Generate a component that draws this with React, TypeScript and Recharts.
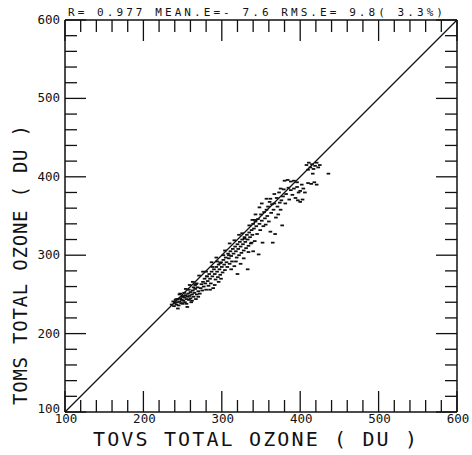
// TOVS vs TOMS total ozone — scatter with 1:1 line, plotter-style frame
import { ScatterChart, Scatter, XAxis, YAxis, ReferenceLine } from 'recharts';

// TOVS total ozone (DU), x values
const tovs = [
  236, 238, 239, 240, 241, 242, 243, 244, 245, 246,
  247, 248, 249, 250, 250, 251, 252, 253, 254, 255,
  255, 256, 257, 258, 259, 260, 260, 261, 262, 263,
  264, 265, 266, 267, 268, 269, 270, 270, 258, 264,
  246, 252, 262, 266, 244, 256, 268, 272, 273, 274,
  275, 276, 277, 278, 279, 280, 281, 282, 283, 284,
  285, 286, 287, 288, 289, 290, 291, 292, 293, 294,
  295, 296, 297, 298, 299, 300, 301, 302, 303, 304,
  285, 291, 296, 280, 288, 294, 299, 302, 305, 306,
  307, 308, 309, 310, 311, 312, 313, 314, 315, 316,
  317, 318, 319, 320, 321, 322, 323, 324, 325, 326,
  327, 328, 329, 330, 331, 332, 333, 334, 335, 336,
  320, 324, 333, 334, 312, 318, 328, 338, 310, 326,
  337, 338, 339, 340, 340, 341, 342, 343, 344, 345,
  346, 347, 348, 349, 350, 351, 352, 353, 354, 355,
  356, 357, 358, 359, 360, 361, 362, 363, 364, 365,
  366, 367, 368, 369, 370, 371, 372, 373, 374, 375,
  376, 377, 378, 379, 380, 381, 382, 384, 385, 386,
  388, 388, 390, 392, 392, 394, 396, 396, 397, 398,
  400, 400, 402, 403, 404, 406, 408, 410, 410, 411,
  413, 414, 415, 416, 417, 418, 419, 421, 421, 423,
  425, 436, 357, 351, 348, 343, 339, 362, 367, 375,
  242, 247, 251, 254, 259, 263, 267, 271, 276, 281,
  287, 293, 298, 304, 309, 316, 322, 329, 335, 342,
];

// TOMS total ozone (DU), y values
const toms = [
  237, 241, 235, 239, 243, 237, 240, 244, 236, 241,
  245, 239, 243, 247, 238, 242, 246, 240, 249, 244,
  238, 247, 251, 243, 248, 253, 245, 240, 250, 255,
  247, 252, 257, 244, 250, 259, 254, 247, 256, 259,
  250, 252, 242, 262, 232, 234, 264, 251, 258, 263,
  255, 266, 260, 270, 264, 256, 273, 267, 261, 276,
  270, 264, 279, 273, 258, 282, 276, 269, 285, 279,
  272, 288, 282, 275, 291, 285, 278, 294, 288, 281,
  256, 262, 266, 279, 285, 292, 270, 300, 297, 291,
  285, 302, 296, 289, 305, 299, 292, 308, 302, 286,
  311, 305, 297, 314, 308, 300, 317, 311, 303, 320,
  314, 306, 323, 317, 309, 326, 320, 312, 329, 323,
  276, 289, 282, 304, 282, 292, 296, 316, 315, 328,
  315, 332, 326, 305, 340, 334, 318, 343, 337, 327,
  346, 301, 340, 332, 352, 344, 316, 337, 355, 347,
  339, 358, 350, 362, 343, 368, 330, 354, 365, 316,
  358, 378, 327, 348, 373, 362, 352, 380, 367, 358,
  370, 338, 375, 384, 395, 366, 378, 396, 386, 371,
  394, 383, 377, 395, 385, 373, 393, 387, 370, 380,
  368, 382, 390, 371, 385, 380, 415, 392, 409, 418,
  412, 391, 416, 404, 410, 393, 414, 418, 390, 412,
  415, 404, 372, 366, 361, 352, 345, 372, 366, 385,
  244, 251, 248, 257, 262, 266, 263, 274, 279, 273,
  291, 297, 290, 306, 300, 319, 326, 321, 338, 345,
];

const axisTicks = [
  100, 120, 140, 160, 180, 200, 220, 240, 260, 280, 300, 320, 340,
  360, 380, 400, 420, 440, 460, 480, 500, 520, 540, 560, 580, 600,
];
const labelTicks = [100, 200, 300, 400, 500, 600];

const statsText = 'R= 0.977 MEAN.E=- 7.6 RMS.E= 9.8( 3.3%)';
const xTitle = 'TOVS TOTAL OZONE ( DU )';
const yTitle = 'TOMS TOTAL OZONE ( DU )';

const points = tovs.map((x, i) => ({ tovs: x, toms: toms[i] }));

const FONT = '"DejaVu Sans Mono", "Liberation Mono", monospace';
const INK = '#111';

type Side = 'bottom' | 'top' | 'left' | 'right';

// inward ticks, longer every 100 DU; labels only on bottom/left
function frameTick(side: Side) {
  return (props: any) => {
    const { x, y, payload } = props;
    const v = payload.value;
    const major = labelTicks.includes(v);
    const len = major ? 21 : 12;
    let x2 = x, y2 = y;
    if (side === 'bottom') y2 = y - len;
    if (side === 'top') y2 = y + len;
    if (side === 'left') x2 = x + len;
    if (side === 'right') x2 = x - len;
    return (
      <g key={`${side}-${v}`}>
        <line x1={x} y1={y} x2={x2} y2={y2} stroke={INK} strokeWidth={1.3} />
        {major && side === 'bottom' && (
          <text x={x + 1} y={y + 11} textAnchor="middle" fontFamily={FONT} fontSize={12.5} fill={INK}>
            {v}
          </text>
        )}
        {major && side === 'left' && (
          <text x={x - 5} y={y + (v === 100 ? 1 : 4)} textAnchor="end" fontFamily={FONT} fontSize={12.5} fill={INK}>
            {v}
          </text>
        )}
      </g>
    );
  };
}

function Dash(props: any) {
  const { cx, cy } = props;
  return <rect x={cx - 1.8} y={cy - 0.9} width={3.6} height={1.8} fill={INK} />;
}

const Nothing = () => <g />;

export default function App() {
  const axisLine = { stroke: INK, strokeWidth: 1.5 };
  return (
    <div style={{ position: 'absolute', left: 0, top: 0, width: 472, height: 455, background: '#fff' }}>
      <ScatterChart width={472} height={455} margin={{ top: 19, right: 14, bottom: 42, left: 64 }}>
        <XAxis
          dataKey="tovs" type="number" domain={[100, 600]} ticks={axisTicks} interval={0}
          height={1} tickSize={0} tickMargin={0} tickLine={false} axisLine={axisLine}
          tick={frameTick('bottom')}
        />
        <XAxis
          xAxisId="top" orientation="top" dataKey="tovs" type="number" domain={[100, 600]} ticks={axisTicks}
          interval={0} height={1} tickSize={0} tickMargin={0} tickLine={false} axisLine={axisLine}
          tick={frameTick('top')}
        />
        <YAxis
          dataKey="toms" type="number" domain={[100, 600]} ticks={axisTicks} interval={0}
          width={1} tickSize={0} tickMargin={0} tickLine={false} axisLine={axisLine}
          tick={frameTick('left')}
        />
        <YAxis
          yAxisId="right" orientation="right" dataKey="toms" type="number" domain={[100, 600]} ticks={axisTicks}
          interval={0} width={1} tickSize={0} tickMargin={0} tickLine={false} axisLine={axisLine}
          tick={frameTick('right')}
        />
        <ReferenceLine
          segment={[{ x: 100, y: 100 }, { x: 600, y: 600 }]}
          stroke={INK} strokeWidth={1.2}
        />
        <Scatter data={points} shape={<Dash />} isAnimationActive={false} />
        <Scatter
          data={points} xAxisId="top" yAxisId="right" shape={<Nothing />}
          isAnimationActive={false} legendType="none"
        />
      </ScatterChart>
      <svg width={472} height={455} style={{ position: 'absolute', left: 0, top: 0, pointerEvents: 'none' }}>
        <text x={68} y={16} fontFamily={FONT} fontSize={11} fill={INK} textLength={375} lengthAdjust="spacing">
          {statsText}
        </text>
        <text x={93} y={446} fontFamily={FONT} fontSize={20} fill={INK} textLength={324} lengthAdjust="spacing">
          {xTitle}
        </text>
        <text
          x={27} y={405} transform="rotate(-90 27 405)" fontFamily={FONT} fontSize={19} fill={INK}
          textLength={280} lengthAdjust="spacing"
        >
          {yTitle}
        </text>
      </svg>
    </div>
  );
}
